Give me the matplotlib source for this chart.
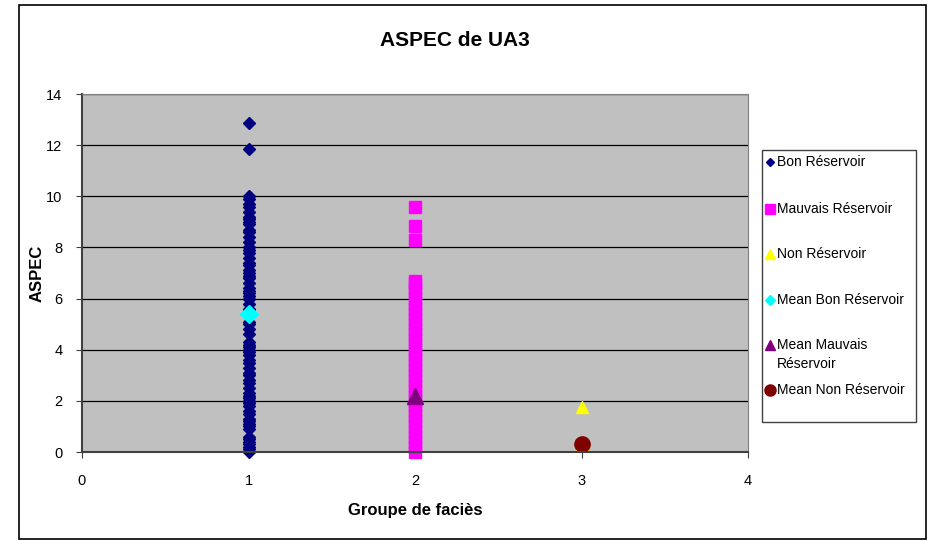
import matplotlib
matplotlib.use("Agg")
import matplotlib.pyplot as plt
from matplotlib.patches import Rectangle
from matplotlib.lines import Line2D

plt.rcParams['font.family'] = ['Liberation Sans', 'DejaVu Sans']

title = "ASPEC de UA3"
xlabel = "Groupe de faciès"
ylabel = "ASPEC"

bon_x = 1
bon_y = [0.0, 0.1, 0.2, 0.3, 0.4, 0.5, 0.6, 0.9, 1.0, 1.1, 1.2, 1.3, 1.5, 1.6, 1.8, 1.9,
         2.0, 2.1, 2.2, 2.3, 2.5, 2.7, 2.8, 3.0, 3.1, 3.3, 3.5, 3.6, 3.8, 3.9, 4.0, 4.1, 4.2,
         4.3, 4.6, 4.8, 5.0, 5.1, 5.3, 5.5, 5.6, 5.8, 6.0, 6.1, 6.2, 6.3, 6.4, 6.6, 6.8,
         6.9, 7.0, 7.1, 7.3, 7.4, 7.6, 7.8, 7.9, 8.0, 8.2, 8.4, 8.6, 8.7, 8.9, 9.0, 9.1, 9.2,
         9.4, 9.6, 9.7, 9.9, 10.0, 11.85, 12.85]

mauv_x = 2
mauv_y = [0.0, 0.2, 0.4, 0.6, 0.8, 1.0, 1.2, 1.4, 1.6, 1.8, 2.0, 2.2, 2.4, 2.6, 2.8,
          3.0, 3.2, 3.4, 3.6, 3.8, 4.0, 4.2, 4.4, 4.6, 4.8, 5.0, 5.2, 5.4, 5.6, 5.8,
          6.0, 6.2, 6.4, 6.6, 6.7, 8.3, 8.85, 9.6]

non_x = 3
non_y = [0.0, 0.3, 1.75]

mean_bon = 5.4
mean_mauv = 2.2
mean_non = 0.3

legend_labels = ['Bon Réservoir', 'Mauvais Réservoir', 'Non Réservoir',
                 'Mean Bon Réservoir', 'Mean Mauvais\nRéservoir', 'Mean Non Réservoir']

W, H = 934, 541
fig = plt.figure(figsize=(W/100, H/100), dpi=100)
fig.patches.append(Rectangle((19/W, 2/H), 907/W, 534/H, transform=fig.transFigure,
                             fill=False, edgecolor='black', linewidth=1.2))
# legend box
fig.patches.append(Rectangle((762/W, 1-422/H), 154/W, 272/H, transform=fig.transFigure,
                             fill=False, edgecolor='#404040', linewidth=1.0))

ax = fig.add_axes([82/W, 1-452/H, (748-82)/W, (452-94)/H])
ax.set_facecolor('#C0C0C0')
ax.set_xlim(0, 4)
ax.set_ylim(0, 14)
ax.set_xticks([0, 1, 2, 3, 4])
ax.set_yticks(range(0, 15, 2))
ax.yaxis.grid(True, color='black', linewidth=0.9)
ax.set_axisbelow(True)
for s in ax.spines.values():
    s.set_color('#808080')
ax.spines['left'].set_color('#404040')
ax.spines['bottom'].set_color('#404040')
ax.spines['left'].set_linewidth(1.5)
ax.spines['bottom'].set_linewidth(1.5)
ax.tick_params(labelsize=10.5, colors='#404040', labelcolor='black', length=4)
ax.tick_params(axis='x', pad=12)
ax.tick_params(axis='y', pad=10)

h1, = ax.plot([bon_x]*len(bon_y), bon_y, 'D', color='#000080', markersize=6.5, linestyle='none', clip_on=False)
h2, = ax.plot([mauv_x]*len(mauv_y), mauv_y, 's', color='#FF00FF', markersize=8.5, linestyle='none', clip_on=False)
h3, = ax.plot([non_x]*len(non_y), non_y, '^', color='#FFFF00', markersize=8, linestyle='none', clip_on=True)
h4, = ax.plot([bon_x], [mean_bon], 'D', color='#00FFFF', markersize=9, linestyle='none')
h5, = ax.plot([mauv_x], [mean_mauv], '^', color='#800080', markersize=12, linestyle='none')
h6, = ax.plot([non_x], [mean_non], 'o', color='#800000', markersize=11, linestyle='none')

fig.text(455/W, 1-40/H, title, fontsize=15, fontweight='bold', ha='center', va='center')
ax.set_xlabel(xlabel, fontsize=12, fontweight='bold', labelpad=11)
ax.set_ylabel(ylabel, fontsize=12, fontweight='bold', labelpad=1)

# manual legend
handles = [h1, h2, h3, h4, h5, h6]
entry_y = [162, 209, 254, 300, 345, 390]
legend_ms = [4.5, 6.5, 6.5, 5.5, 7, 8]
for h, lab, yy, ms in zip(handles, legend_labels, entry_y, legend_ms):
    fig.add_artist(Line2D([770/W], [1-yy/H], transform=fig.transFigure,
                          marker=h.get_marker(), color=h.get_color(), markersize=ms,
                          linestyle='none'))
    fig.text(777/W, 1-(yy-7)/H, lab, fontsize=10, ha='left', va='top', linespacing=1.45)

fig.savefig('out.png', dpi=100)
